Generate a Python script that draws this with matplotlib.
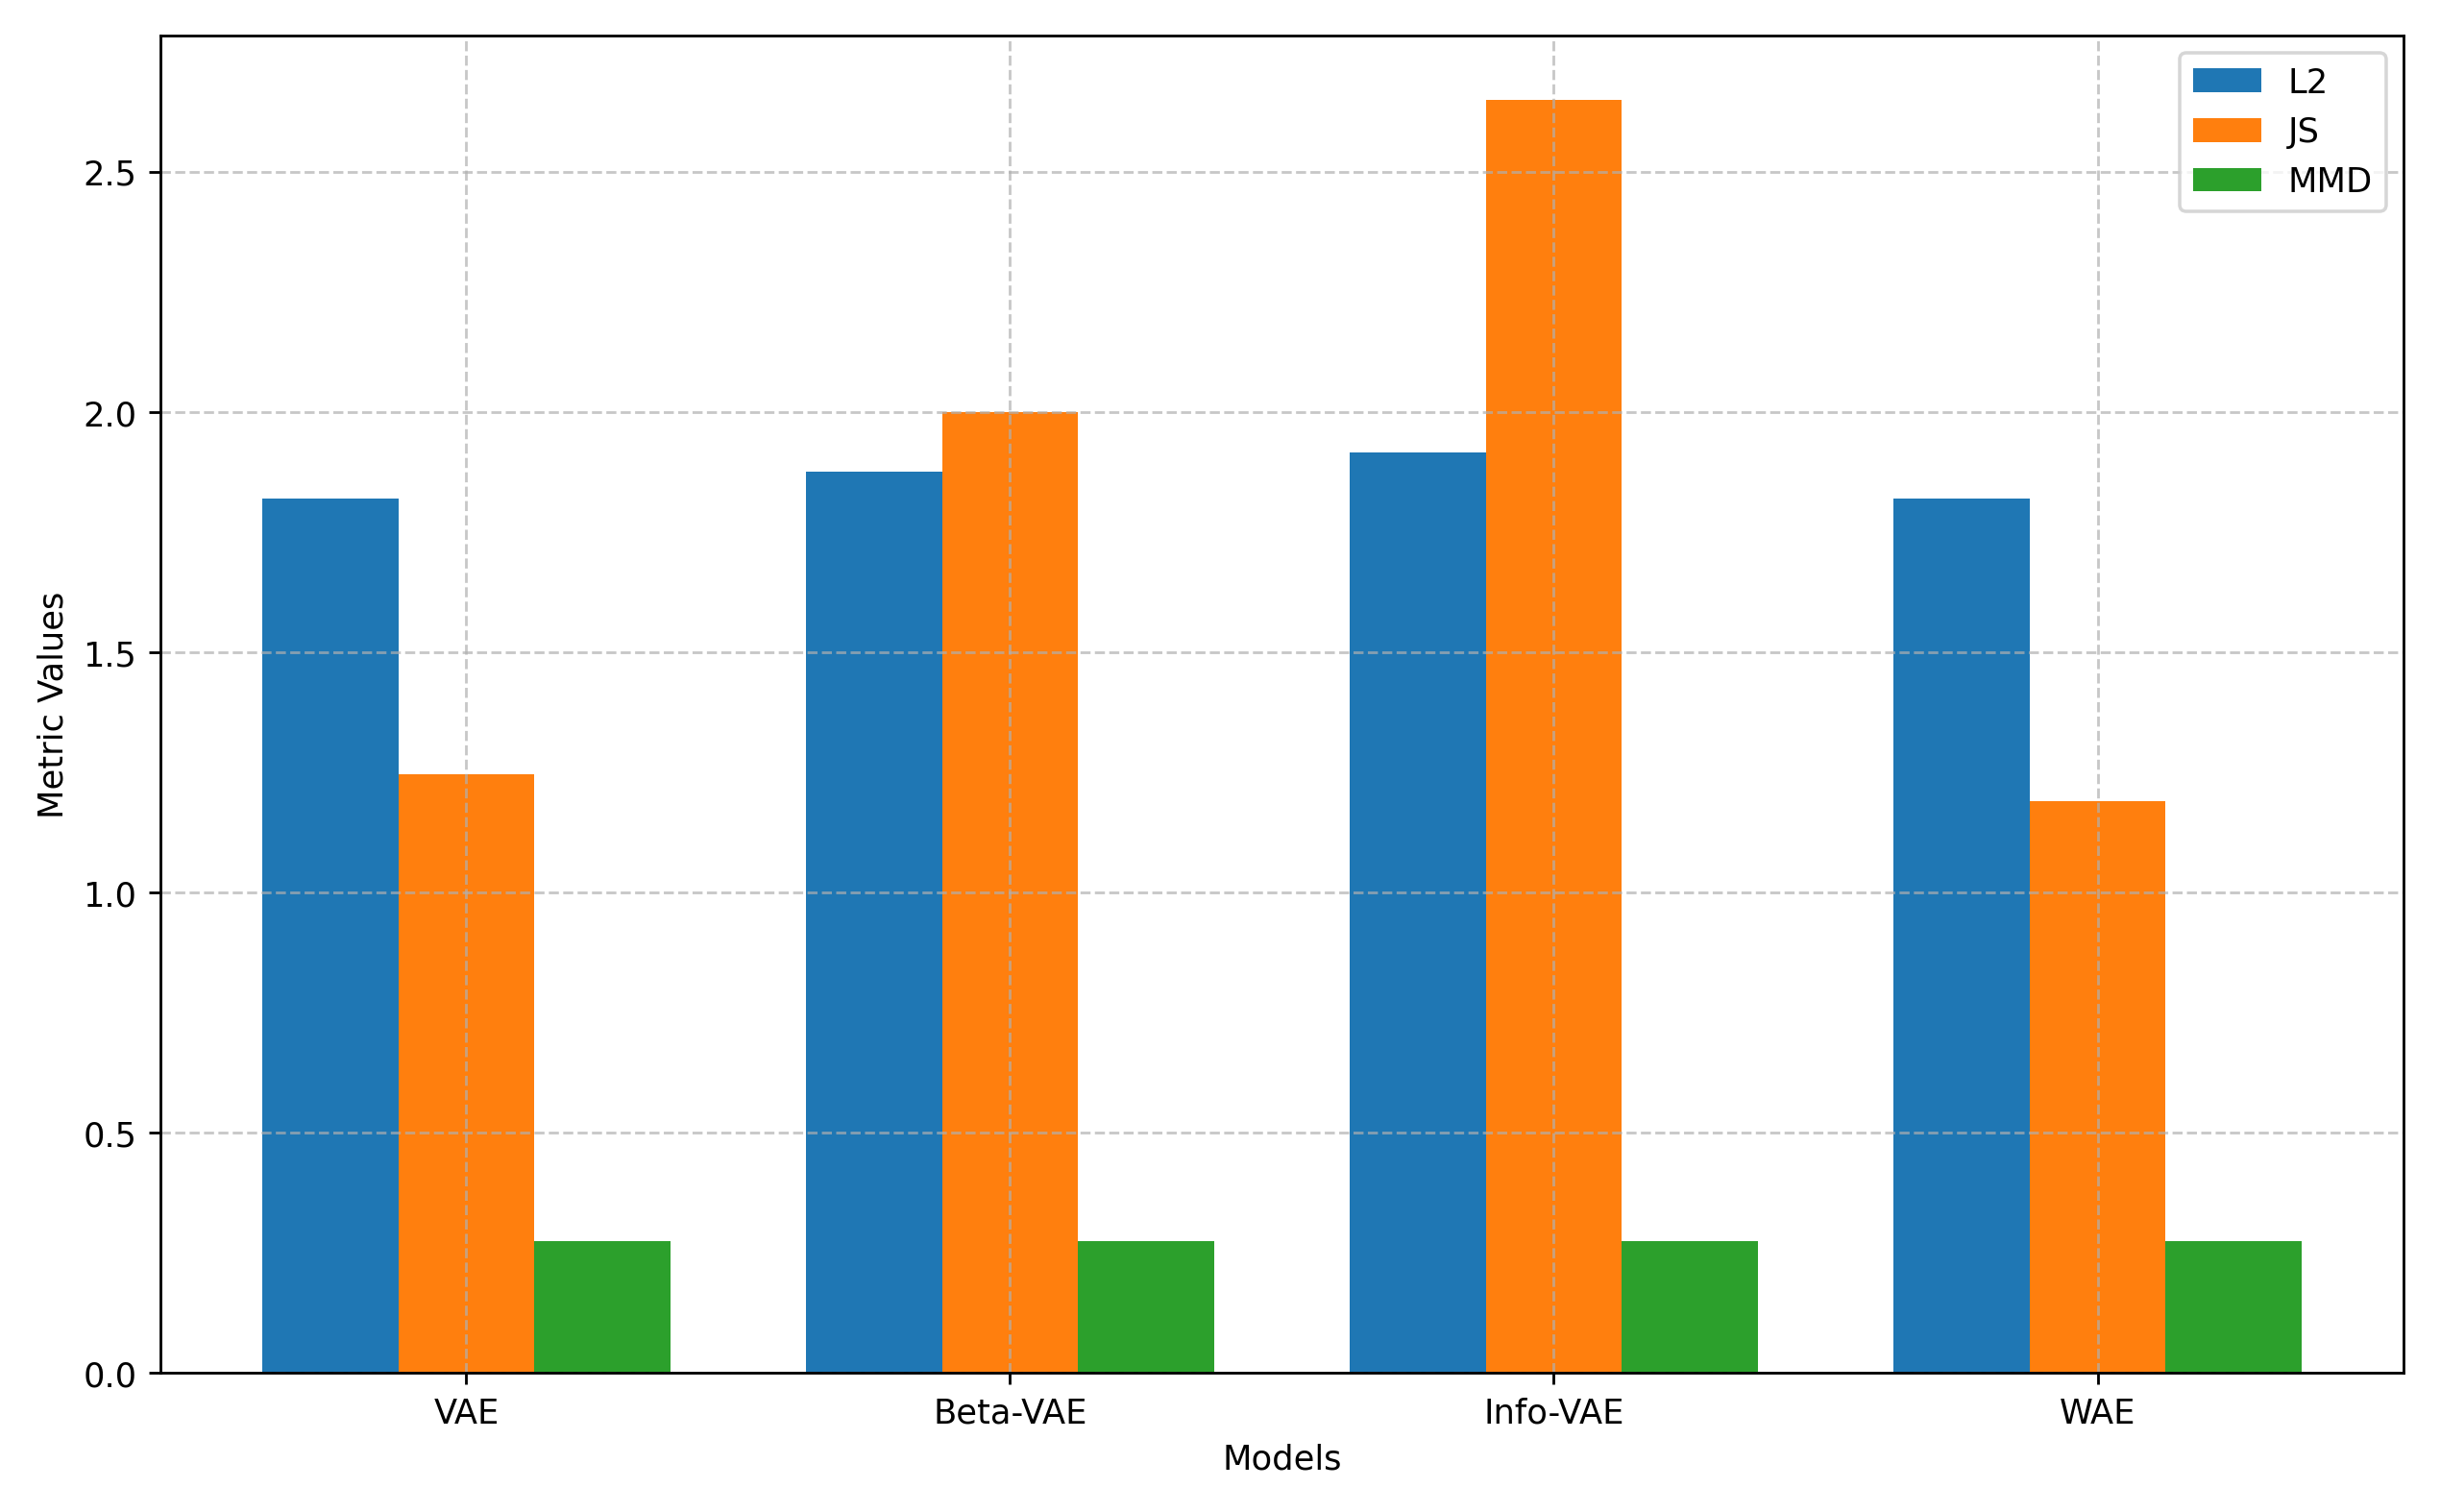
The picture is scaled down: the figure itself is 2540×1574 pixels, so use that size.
import numpy as np
import matplotlib.pyplot as plt

models = ['VAE', 'Beta-VAE', 'Info-VAE', 'WAE']
l2 = [1.82, 1.875, 1.915, 1.82]
js = [1.245, 2.0, 2.65, 1.19]
mmd = [0.275, 0.275, 0.275, 0.275]

x = np.arange(len(models))
w = 0.25

fig, ax = plt.subplots(figsize=(10, 6.2), dpi=254)
ax.bar(x - w, l2, w, label='L2')
ax.bar(x, js, w, label='JS')
ax.bar(x + w, mmd, w, label='MMD')
ax.set_xticks(x)
ax.set_xticklabels(models)
ax.set_xlabel('Models')
ax.set_ylabel('Metric Values')
ax.legend()
ax.grid(True, linestyle='--', alpha=0.7)
fig.tight_layout()
fig.savefig('out.png')
